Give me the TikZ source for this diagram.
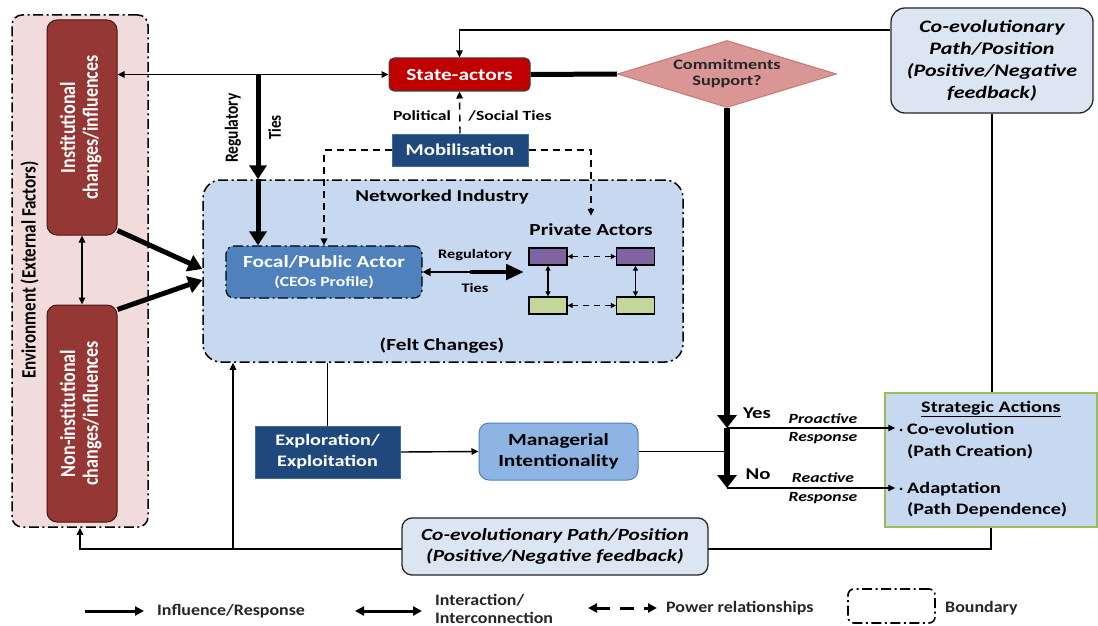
\documentclass[tikz,border=0pt]{standalone}
\usepackage{fontspec}
\usepackage{graphicx}
\setmainfont{Carlito}[FakeStretch=1.26]
\newfontfamily\upfont{Carlito}
\newfontfamily\keyfont{Carlito}[FakeStretch=1.12]
\usetikzlibrary{arrows.meta,shapes.geometric,calc}

\definecolor{envpink}{RGB}{242,220,219}
\definecolor{instred}{RGB}{149,55,53}
\definecolor{instedge}{RGB}{70,22,20}
\definecolor{statered}{RGB}{192,0,0}
\definecolor{diapink}{RGB}{217,150,148}
\definecolor{diaedge}{RGB}{196,122,120}
\definecolor{netblue}{RGB}{198,217,240}
\definecolor{focalblue}{RGB}{79,129,189}
\definecolor{navy}{RGB}{31,73,125}
\definecolor{manblue}{RGB}{141,180,226}
\definecolor{fbblue}{RGB}{220,230,242}
\definecolor{actpurple}{RGB}{128,100,162}
\definecolor{actgreen}{RGB}{195,214,155}
\definecolor{stratgreen}{RGB}{155,187,89}

% vertical (side-reading) text, thickened across its lines
\newcommand{\sidetext}[2]{\rotatebox{90}{\scalebox{1}[1.2]{#1\begin{tabular}{@{}c@{}}#2\end{tabular}}}}

\pgfdeclarelayer{paper}
\pgfdeclarelayer{boxes}
\pgfdeclarelayer{wires}
\pgfsetlayers{paper,boxes,wires,main}

\tikzset{
  tipthin/.tip={Triangle[length=7pt,width=6.5pt]},
  tipsmall/.tip={Triangle[length=5pt,width=5pt]},
  tipheavy/.tip={Triangle[length=14pt,width=17pt]},
  tipkey/.tip={Triangle[length=9pt,width=9pt]},
  link/.style={line width=1.4pt},
  linkarr/.style={link,-tipthin},
  linkboth/.style={link,tipthin-tipthin},
  linksmall/.style={line width=1.2pt,tipsmall-tipsmall},
  heavy/.style={line width=5pt},
  heavyarr/.style={heavy,-tipheavy},
  decarr/.style={line width=5.5pt,-{Triangle[length=13pt,width=19pt]}},
  power/.style={line width=1.4pt,dash pattern=on 7pt off 5pt},
  powerarr/.style={power,-tipthin},
  powerboth/.style={line width=1.3pt,dash pattern=on 6pt off 5pt,tipsmall-tipsmall},
  boundary/.style={draw=black,line width=1.5pt,dash pattern=on 10pt off 3.5pt on 2pt off 3.5pt},
  envbox/.style={boundary,fill=envpink,rounded corners=10pt,inner sep=0pt},
  netbox/.style={boundary,fill=netblue,rounded corners=18pt,inner sep=0pt},
  instbox/.style={draw=instedge,line width=1pt,fill=instred,rounded corners=10pt,text=white,inner sep=0pt},
  statebox/.style={draw=black!75,line width=1pt,fill=statered,rounded corners=5pt,text=white,inner sep=0pt},
  decision/.style={diamond,draw=diaedge,line width=1pt,fill=diapink,inner sep=0pt,aspect=3.27,text=black!85,align=center},
  feedback/.style={draw=black!85,line width=1.3pt,fill=fbblue,rounded corners=14pt,inner sep=0pt,align=center,
                   font=\bfseries\itshape\fontsize{17.5}{22}\selectfont},
  navybox/.style={draw=focalblue!60!navy,line width=1pt,fill=navy,text=white,inner sep=0pt,align=center},
  focalbox/.style={boundary,line width=1.2pt,fill=focalblue,rounded corners=8pt,text=white,inner sep=0pt,align=center},
  actor/.style={draw=black,line width=1.3pt,minimum width=38pt,minimum height=17pt,inner sep=0pt},
  manbox/.style={draw=focalblue,line width=1pt,fill=manblue,rounded corners=10pt,inner sep=0pt,align=center},
  stratbox/.style={draw=stratgreen,line width=1.3pt,fill=netblue,inner sep=0pt},
  keytext/.style={font=\keyfont\bfseries\fontsize{16}{18}\selectfont,text=black!85,inner sep=0pt,anchor=west,align=left},
  keyline/.style={line width=3pt},
}

\begin{document}
\begin{tikzpicture}[x=1pt,y=-1pt,
  every node/.append style={font=\bfseries\fontsize{17}{20}\selectfont}]
\useasboundingbox (0,0) rectangle (1098,626);
\begin{pgfonlayer}{paper}
\fill[white] (0,0) rectangle (1098,626);
\end{pgfonlayer}

% ---------- boundary regions ----------
\begin{pgfonlayer}{boxes}
\node[envbox,minimum width=136pt,minimum height=512pt] (env) at (80,271) {};
\node[netbox,minimum width=480pt,minimum height=182pt] (net) at (443,271) {};
\end{pgfonlayer}

% ---------- environment ----------
\node (envlabel) at (31,270) {\sidetext{\upfont\bfseries\fontsize{17}{19}\selectfont}{Environment (External Factors)}};
\node[instbox,minimum width=70pt,minimum height=215pt] (inst) at (82,127.5)
  {\sidetext{\upfont\fontsize{18}{19}\selectfont}{Institutional\\changes/influences}};
\node[instbox,minimum width=70pt,minimum height=217pt] (noninst) at (82,413.5)
  {\sidetext{\upfont\fontsize{18}{19}\selectfont}{Non-institutional\\changes/influences}};

% ---------- state level ----------
\node[statebox,minimum width=141pt,minimum height=33pt] (state) at (459.5,74.5) {State-actors};
\node[decision,minimum width=219pt,minimum height=67pt,font=\bfseries\fontsize{14.5}{16}\selectfont] (commit) at (727,74) {Commitments\\Support?};
\node[feedback,minimum width=202pt,minimum height=105pt] (topco) at (992,60.5)
  {Co-evolutionary\\Path/Position\\(Positive/Negative\\feedback)};

\node (reglab) at (234,128) {\sidetext{\upfont\bfseries\fontsize{15.5}{16}\selectfont}{Regulatory}};
\node (tieslab) at (277,127.5) {\sidetext{\upfont\bfseries\fontsize{15}{16}\selectfont}{Ties}};
\node[font=\bfseries\fontsize{14}{16}\selectfont] (pol) at (422,116) {Political};
\node[font=\bfseries\fontsize{14}{16}\selectfont] (soc) at (510,116) {/Social Ties};
\node[navybox,minimum width=136pt,minimum height=32pt,font=\bfseries\fontsize{16.5}{20}\selectfont] (mob) at (460,150) {Mobilisation};

% ---------- networked industry ----------
\node[font=\bfseries\fontsize{16.6}{20}\selectfont] (netlabel) at (442,197) {Networked Industry};
\node[font=\bfseries\fontsize{16.9}{20}\selectfont] (felt) at (442,346) {(Felt Changes)};
\node[focalbox,minimum width=196pt,minimum height=52pt,font=\bfseries\fontsize{17}{19}\selectfont] (focal) at (324,272)
  {Focal/Public Actor\\{\fontsize{14}{19}\selectfont (CEOs Profile)}};
\node[font=\bfseries\fontsize{13}{16}\selectfont] (rlab) at (475,255) {Regulatory};
\node[font=\bfseries\fontsize{13}{16}\selectfont] (tlab) at (475,288) {Ties};
\node[font=\bfseries\fontsize{16.9}{20}\selectfont,inner sep=2pt] (privlabel) at (591,230) {Private Actors};
\node[actor,fill=actpurple] (p1) at (548,256.5) {};
\node[actor,fill=actpurple] (p2) at (635.5,256.5) {};
\node[actor,fill=actgreen] (g1) at (548,305.5) {};
\node[actor,fill=actgreen] (g2) at (635.5,305.5) {};

% ---------- firm level ----------
\node[navybox,minimum width=145pt,minimum height=52pt,font=\bfseries\fontsize{16}{21}\selectfont] (expl) at (327.5,452) {Exploration/\\Exploitation};
\node[manbox,minimum width=159pt,minimum height=57pt,font=\bfseries\fontsize{17}{21}\selectfont] (man) at (558.5,451.5) {Managerial\\Intentionality};

\node[font=\bfseries\fontsize{16.5}{20}\selectfont] (yes) at (757,413) {Yes};
\node[font=\bfseries\fontsize{16.5}{20}\selectfont] (no) at (758,474) {No};
\node[font=\bfseries\itshape\fontsize{14}{18.5}\selectfont,align=center] (pro) at (823,428.5) {Proactive\\Response};
\node[font=\bfseries\itshape\fontsize{14}{18.5}\selectfont,align=center] (rea) at (823,488) {Reactive\\Response};

\node[stratbox,minimum width=212pt,minimum height=134pt] (strat) at (991,460) {};
\node[font=\bfseries\fontsize{16}{20}\selectfont] (stitle) at (991,409) {\underline{Strategic Actions}};
\node[circle,fill=black,inner sep=0pt,minimum size=3pt] (b1) at (901,430) {};
\node[circle,fill=black,inner sep=0pt,minimum size=3pt] (b2) at (901,489) {};
\node[font=\bfseries\fontsize{16}{22}\selectfont,anchor=west,align=left,inner sep=0pt] (it1) at (907,441) {Co-evolution\\(Path Creation)};
\node[font=\bfseries\fontsize{16}{21}\selectfont,anchor=west,align=left,inner sep=0pt] (it2) at (907,500) {Adaptation\\(Path Dependence)};

\node[feedback,minimum width=306pt,minimum height=57pt,font=\bfseries\itshape\fontsize{17}{21}\selectfont,rounded corners=10pt] (botco) at (555,546.5)
  {Co-evolutionary Path/Position\\(Positive/Negative feedback)};

% ---------- key ----------
\node[keytext] (k1) at (157,611) {Influence/Response};
\node[keytext] (k2) at (435,608.5) {Interaction/\\Interconnection};
\node[keytext] (k3) at (666,608) {Power relationships};
\node[boundary,rounded corners=6pt,minimum width=87pt,minimum height=34pt,inner sep=0pt,line width=1.6pt] (k4box) at (891.5,606) {};
\node[keytext] (k4) at (945,608) {Boundary};
\coordinate (k1a) at (85,611);  \coordinate (k1b) at (144,611);
\coordinate (k2a) at (355,611); \coordinate (k2b) at (422,611);
\coordinate (k3a) at (588,608); \coordinate (k3b) at (657,608);

% ---------- connectors ----------
\coordinate (rtop) at (258,75);
\coordinate (fby) at (0,30);
\coordinate (yesP) at (727,428);
\coordinate (noP) at (727,488);
\coordinate (loopy) at (0,549);
\coordinate (brx) at (233,0);
\coordinate (rtmid) at (470,272);
\coordinate (privin) at (524,272);

\begin{pgfonlayer}{wires}
% state-actors and institutional environment
\draw[linkboth] (state.west) -- (state.west -| inst.east);
\draw[heavyarr] (rtop) -- (rtop |- net.north);
\draw[heavyarr] (rtop |- net.north) -- (rtop |- focal.north);
% feedback into the state-actors
\draw[linkarr] (topco.west |- fby) -| (state.north);
% commitment decision
\draw[heavy] (state.east) -- (commit.west);
\draw[decarr] (commit.south) -- (yesP);
\draw[decarr] (yesP) -- (noP);
\draw[link] (man.east) -- (man.east -| yesP);
% feedback loops
\draw[link] (topco.south) -- (topco.south |- strat.north);
\draw[linkarr] (strat.south) |- (env.south |- loopy) -- (env.south);
\draw[linkarr] (brx |- loopy) -- (brx |- net.south);
% firm level
\draw[link] (expl.north) -- (expl.north |- net.south);
\draw[linkarr] (expl.east) -- (man.west);
% external influences
\draw[heavyarr] ([yshift=5pt]inst.south east) -- ([yshift=2pt]net.west);
\draw[heavyarr] ([yshift=-5pt]noninst.north east) -- ([yshift=-9pt]net.west);
\draw[linkboth] (inst.south) -- (noninst.north);
% mobilisation
\draw[powerarr] (mob.north) -- (state.south);
\draw[powerarr] (mob.west) -| (focal.north);
\draw[powerarr] (mob.east) -| ([yshift=6pt]privlabel.north);
% focal to private actors
\draw[link,{Triangle[length=8pt,width=8pt]}-] (focal.east) -- (rtmid);
\draw[line width=4.5pt,-{Triangle[length=18pt,width=15pt]}] (rtmid) -- (privin);
% among private actors
\draw[powerboth] (p1.east) -- (p2.west);
\draw[powerboth] (g1.east) -- (g2.west);
\draw[linksmall] (p1.south) -- (g1.north);
\draw[linksmall] (p2.south) -- (g2.north);
% key
\draw[keyline,-tipkey] (k1a) -- (k1b);
\draw[keyline,tipkey-tipkey] (k2a) -- (k2b);
\draw[keyline,dash pattern=on 14pt off 10pt,tipkey-tipkey] (k3a) -- (k3b);
\end{pgfonlayer}

% strategic responses, drawn over the box edge
\draw[linkarr,shorten >=4pt] (yesP) -- (yesP -| b1.west);
\draw[linkarr,shorten >=4pt] (noP) -- (noP -| b2.west);
\end{tikzpicture}
\end{document}
